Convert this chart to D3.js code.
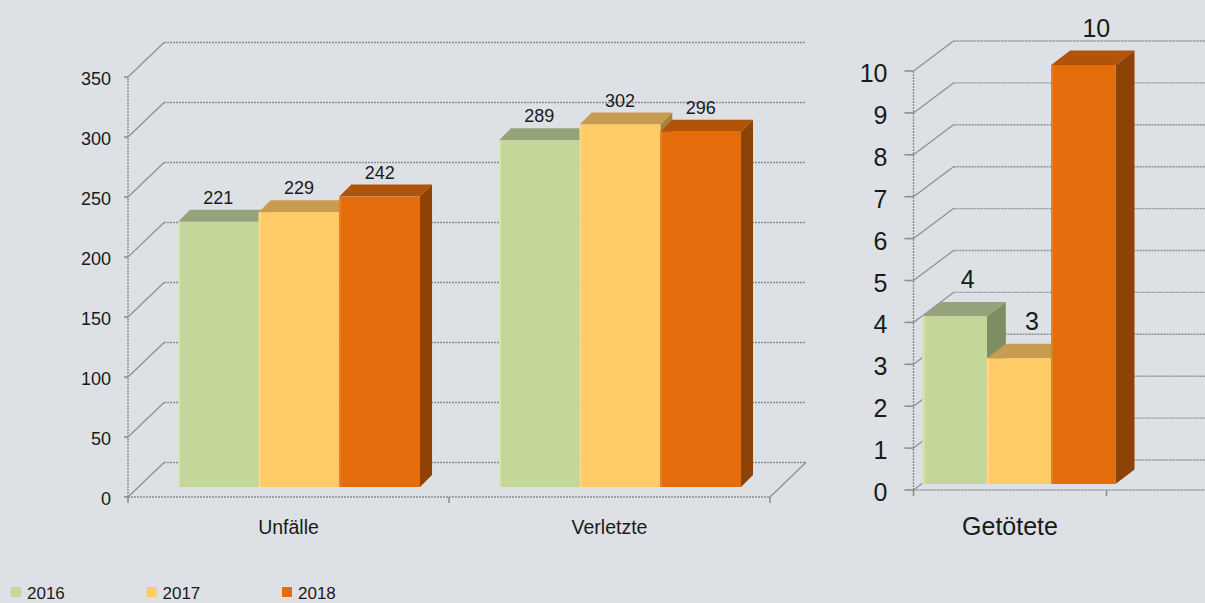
<!DOCTYPE html>
<html>
<head>
<meta charset="utf-8">
<script src="https://cdn.jsdelivr.net/npm/d3@7"></script>
<style>
  html, body { margin: 0; padding: 0; background: #dde1e5; }
  svg { display: block; font-family: "Liberation Sans", Arial, sans-serif; }
</style>
</head>
<body>
<svg id="chart" width="1205" height="603"></svg>
<script>
// Series (years) and their colours
const years = ["2016", "2017", "2018"];
const frontColors = ["#c4d79b", "#fecb66", "#e46c0a"];
const topColors   = ["#96a37a", "#c79c50", "#b15309"];
const sideColors  = ["#7f8d63", "#a98139", "#8e4306"];
const edgeColors  = ["#d8e6ae", "#ffd886", "#ea7d22"];

// Left chart: accidents and injured
const leftCategories = ["Unfälle", "Verletzte"];
const unfaelle  = [221, 229, 242];   // 2016, 2017, 2018
const verletzte = [289, 302, 296];
const leftTicks = [0, 50, 100, 150, 200, 250, 300, 350];

// Right chart: fatalities (second slot of the axis is empty)
const rightCategories = ["Getötete", " "];
const getoetete = [4, 3, 10];
const rightTicks = [0, 1, 2, 3, 4, 5, 6, 7, 8, 9, 10];

const svg = d3.select("#chart");

function draw3DBars(cfg) {
  const g = svg.append("g");
  const y = d3.scaleLinear().domain(cfg.domain).range([cfg.y0, cfg.yTop]);
  const x = d3.scaleBand().domain(cfg.categories).range([cfg.x0, cfg.x1]).padding(0);
  const groupW = x.bandwidth() * cfg.groupFrac;
  const xs = d3.scaleBand().domain(years).range([0, groupW]).padding(0);
  const [wdx, wdy] = cfg.wall;
  const [bdx, bdy] = cfg.barShift;
  const [ddx, ddy] = cfg.depth;
  const gridColor = "#8e8e8e";

  // back wall grid lines
  g.selectAll("line.grid").data(cfg.ticks).join("line")
    .attr("x1", cfg.x0 + wdx).attr("x2", cfg.x1 + wdx)
    .attr("y1", d => y(d) + wdy).attr("y2", d => y(d) + wdy)
    .attr("stroke", gridColor).attr("stroke-width", 1.4)
    .attr("stroke-dasharray", "2 1");

  // side wall diagonals
  g.selectAll("line.side").data(cfg.ticks).join("line")
    .attr("x1", cfg.x0).attr("y1", d => y(d))
    .attr("x2", cfg.x0 + wdx).attr("y2", d => y(d) + wdy)
    .attr("stroke", gridColor).attr("stroke-width", 1.2);

  // floor: front edge and right edge
  g.append("line")
    .attr("x1", cfg.x0).attr("x2", cfg.x1)
    .attr("y1", y(0)).attr("y2", y(0))
    .attr("stroke", gridColor).attr("stroke-width", 1.4)
    .attr("stroke-dasharray", "2 1");
  g.append("line")
    .attr("x1", cfg.x1).attr("y1", y(0))
    .attr("x2", cfg.x1 + wdx).attr("y2", y(0) + wdy)
    .attr("stroke", gridColor).attr("stroke-width", 1.2);

  // value axis line, ticks and labels
  g.append("line")
    .attr("x1", cfg.x0).attr("x2", cfg.x0)
    .attr("y1", y(0)).attr("y2", y(cfg.domain[1]))
    .attr("stroke", gridColor).attr("stroke-width", 1.4)
    .attr("stroke-dasharray", "2 1");
  g.selectAll("line.ytick").data(cfg.ticks).join("line")
    .attr("x1", cfg.x0 - cfg.tickLen).attr("x2", cfg.x0)
    .attr("y1", d => y(d)).attr("y2", d => y(d))
    .attr("stroke", gridColor).attr("stroke-width", 1.6);
  g.selectAll("text.ytick").data(cfg.ticks).join("text")
    .attr("x", cfg.x0 - cfg.labelGap)
    .attr("y", d => y(d) + cfg.tickFont * 0.44)
    .attr("text-anchor", "end")
    .attr("font-size", cfg.tickFont)
    .attr("fill", "#1a1a1a")
    .text(d => d);

  // category axis ticks at band edges
  const edges = cfg.categories.map(c => x(c)).concat([cfg.x1]);
  g.selectAll("line.xtick").data(edges).join("line")
    .attr("x1", d => d).attr("x2", d => d)
    .attr("y1", y(0)).attr("y2", y(0) + 6)
    .attr("stroke", gridColor).attr("stroke-width", 1.6);
  g.selectAll("text.cat").data(cfg.categories).join("text")
    .attr("x", d => x(d) + x.bandwidth() / 2)
    .attr("y", cfg.catBaseline)
    .attr("text-anchor", "middle")
    .attr("font-size", cfg.catFont)
    .attr("fill", "#1a1a1a")
    .text(d => d);

  // bars, left to right so later front faces hide earlier side faces
  const bars = [];
  cfg.categories.forEach((c, ci) => {
    const vals = cfg.values[ci];
    if (!vals) return;
    vals.forEach((v, si) => {
      const left = x(c) + (x.bandwidth() - groupW) / 2 + xs(years[si]) + bdx;
      const w = xs.bandwidth();
      const top = y(v) + bdy;
      const bottom = y(0) + bdy;
      bars.push({ v, si, left, w, top, bottom });
    });
  });

  const bg = g.append("g");
  bars.forEach(b => {
    const r = b.left + b.w;
    // side face
    bg.append("path")
      .attr("d", `M${r},${b.top} L${r + ddx},${b.top + ddy} L${r + ddx},${b.bottom + ddy} L${r},${b.bottom} Z`)
      .attr("fill", sideColors[b.si]);
    // top face
    bg.append("path")
      .attr("d", `M${b.left},${b.top} L${b.left + ddx},${b.top + ddy} L${r + ddx},${b.top + ddy} L${r},${b.top} Z`)
      .attr("fill", topColors[b.si]);
    // front face
    bg.append("rect")
      .attr("x", b.left).attr("y", b.top)
      .attr("width", b.w).attr("height", b.bottom - b.top)
      .attr("fill", frontColors[b.si]);
    bg.append("rect")
      .attr("x", b.left).attr("y", b.top)
      .attr("width", 2).attr("height", b.bottom - b.top)
      .attr("fill", edgeColors[b.si]);
  });

  // value labels
  g.selectAll("text.val").data(bars).join("text")
    .attr("x", b => b.left + b.w / 2 + cfg.labelDx)
    .attr("y", b => b.top + ddy - cfg.labelLift)
    .attr("text-anchor", "middle")
    .attr("font-size", cfg.valueFont)
    .attr("fill", "#1a1a1a")
    .text(b => b.v);
}

draw3DBars({
  categories: leftCategories,
  values: [unfaelle, verletzte],
  domain: [0, 350], ticks: leftTicks,
  x0: 128, x1: 770, y0: 497, yTop: 77,
  wall: [36, -34.5], barShift: [10.5, -10], depth: [12, -12],
  groupFrac: 0.754,
  tickLen: 4, labelGap: 17, tickFont: 18,
  catFont: 19.5, catBaseline: 534,
  valueFont: 18, labelDx: 0, labelLift: 6
});

draw3DBars({
  categories: rightCategories,
  values: [getoetete],
  domain: [0, 10], ticks: rightTicks,
  x0: 913.5, x1: 913.5 + 2 * 193, y0: 490, yTop: 71,
  wall: [40, -30], barShift: [9, -6], depth: [19, -14.5],
  groupFrac: 1.0,
  tickLen: 9, labelGap: 26, tickFont: 25,
  catFont: 25, catBaseline: 535,
  valueFont: 25, labelDx: 13, labelLift: 14
});

// legend along the bottom edge
const legend = svg.append("g").selectAll("g").data(years).join("g")
  .attr("transform", (d, i) => `translate(${11 + i * 135.5},587)`);
legend.append("rect").attr("width", 10).attr("height", 10)
  .attr("fill", (d, i) => frontColors[i]);
legend.append("text").attr("x", 16).attr("y", 11.5)
  .attr("font-size", 17).attr("fill", "#1a1a1a")
  .text(d => d);
</script>
</body>
</html>
